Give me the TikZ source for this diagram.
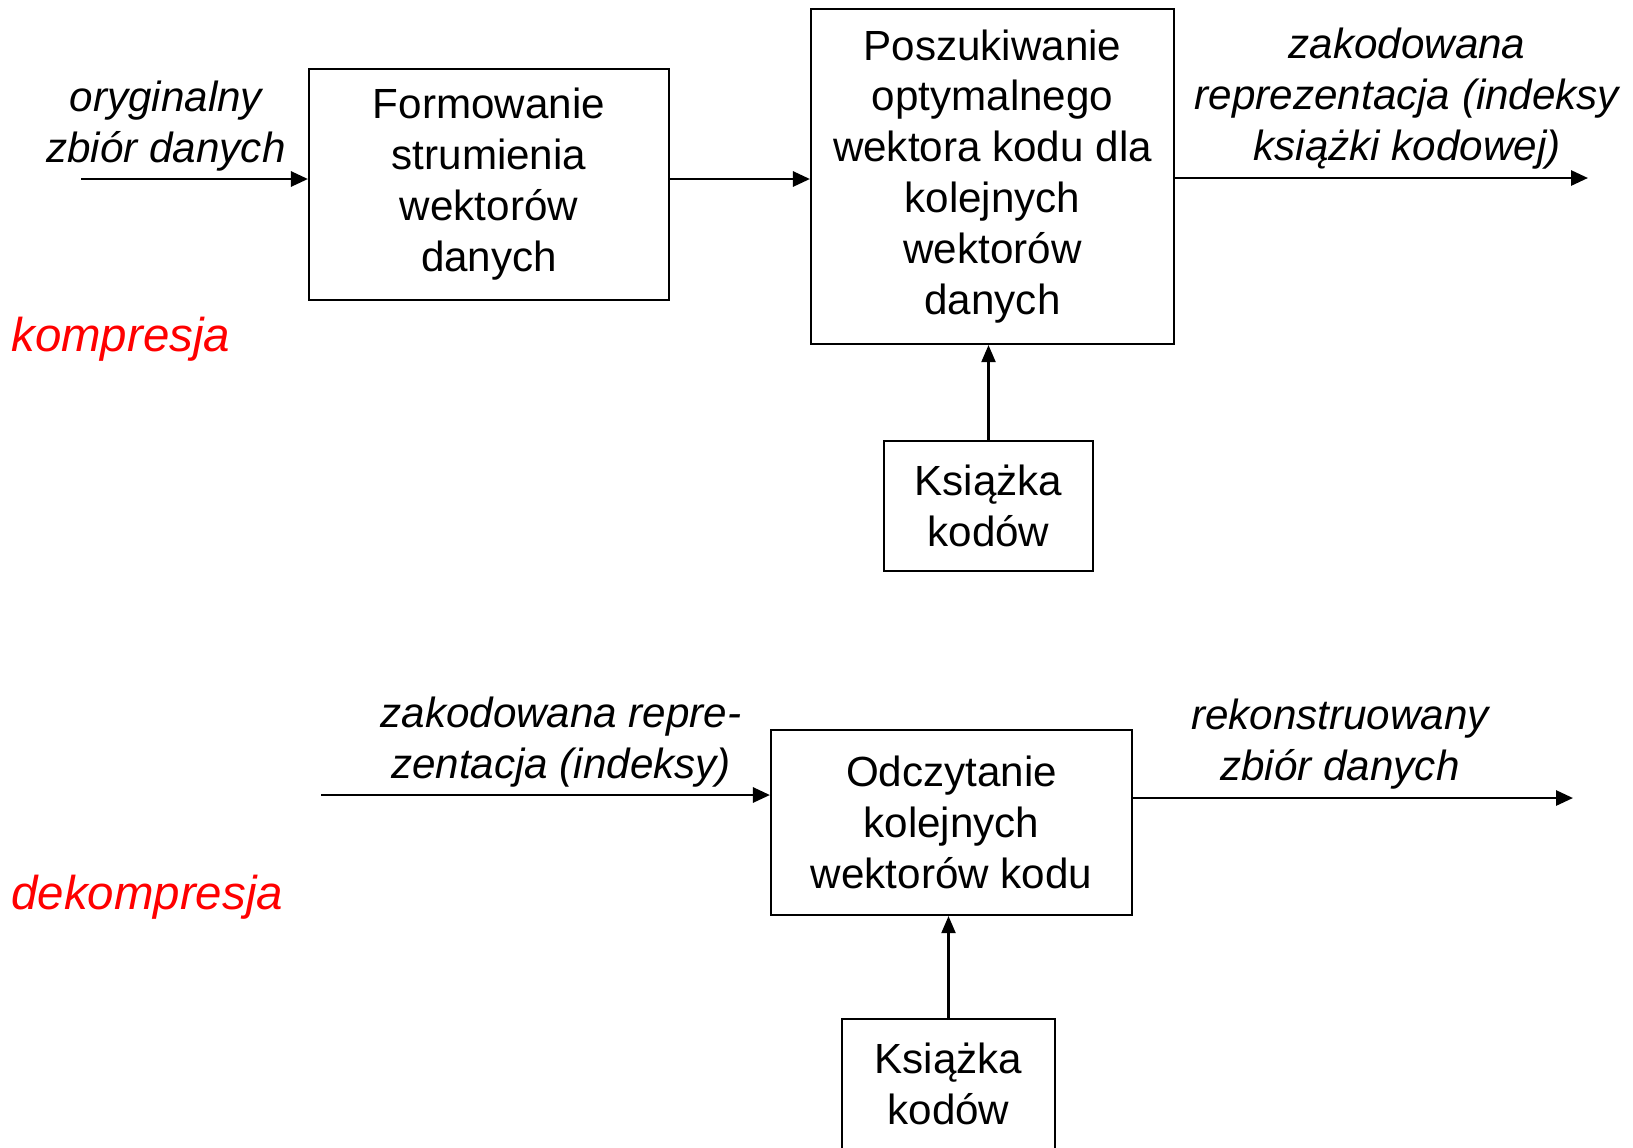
\documentclass[tikz,border=0pt]{standalone}
\usepackage{fontspec}
\setmainfont{Liberation Sans}
\usetikzlibrary{arrows.meta,positioning}
\tikzset{
  block/.style={draw, line width=1.2pt, align=center, inner sep=0pt,
    font=\fontsize{24}{29}\selectfont},
  caption/.style={align=center, inner sep=0pt,
    font=\fontsize{24}{29}\selectfont\itshape},
  flow/.style={line width=1.6pt, -{Triangle[length=0.34cm,width=0.3cm]}},
  feed/.style={line width=1.2pt, -{Triangle[length=0.34cm,width=0.28cm]}},
  phase/.style={anchor=west, inner sep=0pt, text=red,
    font=\fontsize{27}{32}\selectfont\itshape}
}
\begin{document}
\begin{tikzpicture}
\useasboundingbox (0,0) rectangle (32.66,-22.94);

% Kompresja
\node[block, minimum width=7.2cm, minimum height=4.62cm] (form) at (9.78,-3.69)
    {Formowanie\\strumienia\\wektorów\\danych};
\node[block, minimum width=7.26cm, minimum height=6.7cm] (search) at (19.85,-3.53)
    {Poszukiwanie\\optymalnego\\wektora kodu dla\\kolejnych\\wektorów\\danych};
\node[block, minimum width=4.18cm, minimum height=2.6cm] (book1) at (19.77,-10.12)
    {Książka\\kodów};
\node[phase] (comp) at (0.22,-6.78) {kompresja};

\coordinate (src) at (1.62,-3.58);
\coordinate (code) at (31.76,-3.56);
\draw[flow] (src) -- (src -| form.west);
\draw[flow] (form.east |- src) -- (search.west |- src);
\draw[flow] (search.east |- code) -- (code);
\draw[feed] (book1.north) -- (book1.north |- search.south);

\node[caption] (srclbl) at (3.32,-2.52) {oryginalny\\zbiór danych};
\node[caption] (codelbl) at (28.14,-1.98)
    {zakodowana\\reprezentacja (indeksy\\książki kodowej)};

% Dekompresja
\node[block, minimum width=7.22cm, minimum height=3.7cm] (read) at (19.03,-16.45)
    {Odczytanie\\kolejnych\\wektorów kodu};
\node[block, minimum width=4.26cm, minimum height=2.6cm] (book2) at (18.97,-21.68)
    {Książka\\kodów};
\node[phase] (decomp) at (0.22,-17.94) {dekompresja};

\coordinate (idx) at (6.42,-15.9);
\coordinate (rec) at (31.46,-15.96);
\draw[flow] (idx) -- (idx -| read.west);
\draw[flow] (read.east |- rec) -- (rec);
\draw[feed] (book2.north) -- (book2.north |- read.south);

\node[caption] (idxlbl) at (11.22,-14.84) {zakodowana repre-\\zentacja (indeksy)};
\node[caption] (reclbl) at (26.8,-14.88) {rekonstruowany\\zbiór danych};
\end{tikzpicture}
\end{document}
